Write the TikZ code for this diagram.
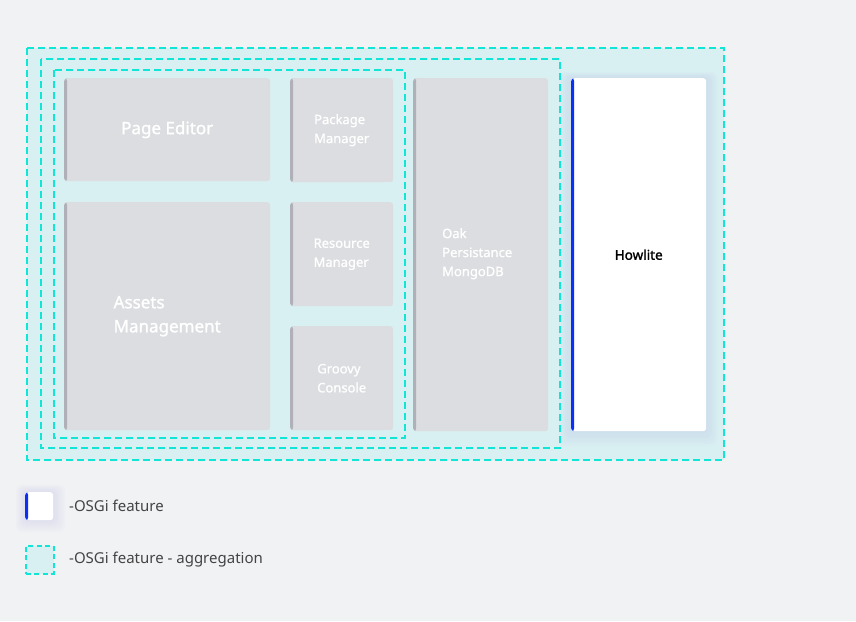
\documentclass[tikz,border=0pt]{standalone}
\usepackage{fontspec}
\setmainfont{Noto Sans}
\usetikzlibrary{positioning}
\definecolor{bgc}{HTML}{F1F2F4}
\definecolor{aggfill}{HTML}{D9F0F2}
\definecolor{aggline}{HTML}{10E6D6}
\definecolor{boxfill}{HTML}{DCDDE0}
\definecolor{boxstrip}{HTML}{B0B1B8}
\definecolor{featblue}{HTML}{0A30F5}
\definecolor{txtgray}{HTML}{444444}
\definecolor{glow}{HTML}{B8BEE8}
\tikzset{
  agg/.style={draw=aggline, line width=2pt, dash pattern=on 7pt off 4pt},
  graybox/.style={rectangle, rounded corners=3pt, fill=boxfill, anchor=north west,
    inner sep=0pt, text=white, align=left,
    path picture={\fill[boxstrip] (path picture bounding box.north west) rectangle ([xshift=3pt]path picture bounding box.south west);}},
  featbox/.style={rectangle, rounded corners=3pt, fill=white, anchor=north west,
    inner sep=0pt, align=center,
    path picture={\fill[featblue] (path picture bounding box.north west) rectangle ([xshift=3pt]path picture bounding box.south west);}},
  bigtxt/.style={font=\fontsize{17}{24}\selectfont\addfontfeature{FakeBold=1.5}},
  smalltxt/.style={font=\fontsize{13}{19}\selectfont\addfontfeature{FakeBold=1.2}},
  legtxt/.style={anchor=base west, text=txtgray, font=\fontsize{15}{18}\selectfont, inner sep=0pt},
}
\begin{document}
\begin{tikzpicture}[x=1pt,y=-1pt]
\fill[bgc] (0,0) rectangle (856,621);
\useasboundingbox (0,0) rectangle (856,621);
% aggregation frames
\fill[aggfill] (27,48) rectangle (724,460);
\foreach \i in {1,...,6}{
  \fill[glow, opacity=0.05, rounded corners=6pt] (571-\i*2,78-\i) rectangle (706+\i*2,431+\i*2.5);
}
\draw[agg] (27,48) rectangle (724,460);
\draw[agg] (41,59) rectangle (560,448);
\draw[agg] (54,70) rectangle (405,438);
% boxes
\node[graybox, minimum width=206pt, minimum height=103pt, bigtxt] (page) at (64,78) {Page Editor};
\node[graybox, minimum width=206pt, minimum height=228pt, bigtxt] (assets) at (64,202) {Assets\\Management};
\node[graybox, minimum width=103pt, minimum height=104pt, smalltxt] (pkg) at (290,78) {Package\\Manager};
\node[graybox, minimum width=103pt, minimum height=104pt, smalltxt] (res) at (290,202) {Resource\\Manager};
\node[graybox, minimum width=103pt, minimum height=104pt, smalltxt] (groovy) at (290,326) {Groovy\\Console};
\node[graybox, minimum width=135pt, minimum height=353pt] (oak) at (413,78) {};
\node[smalltxt, text=white, align=left, anchor=north west, inner sep=0pt] (oaktxt) at (442,228) {Oak\\Persistance\\MongoDB};
\node[featbox, minimum width=135pt, minimum height=353pt, font=\fontsize{13.5}{15}\selectfont\addfontfeature{FakeBold=1.5}] (howlite) at (571,78) {Howlite};
% legend
\foreach \i in {1,...,6}{
  \fill[glow, opacity=0.05, rounded corners=6pt] (25-\i*1.5,492-\i*1.2) rectangle (53+\i*2,520+\i*2);
}
\node[featbox, minimum width=28pt, minimum height=28pt] (legfeat) at (25,492) {};
\node[legtxt] (legfeattxt) at (69,511.5) {-OSGi feature};
\node[rectangle, anchor=north west, minimum width=28pt, minimum height=28pt, inner sep=0pt, fill=aggfill, agg, line width=1.7pt, dash pattern=on 5pt off 3.5pt] (legagg) at (25,545) {};
\node[legtxt] (legaggtxt) at (69,563.5) {-OSGi feature - aggregation};
\end{tikzpicture}
\end{document}
